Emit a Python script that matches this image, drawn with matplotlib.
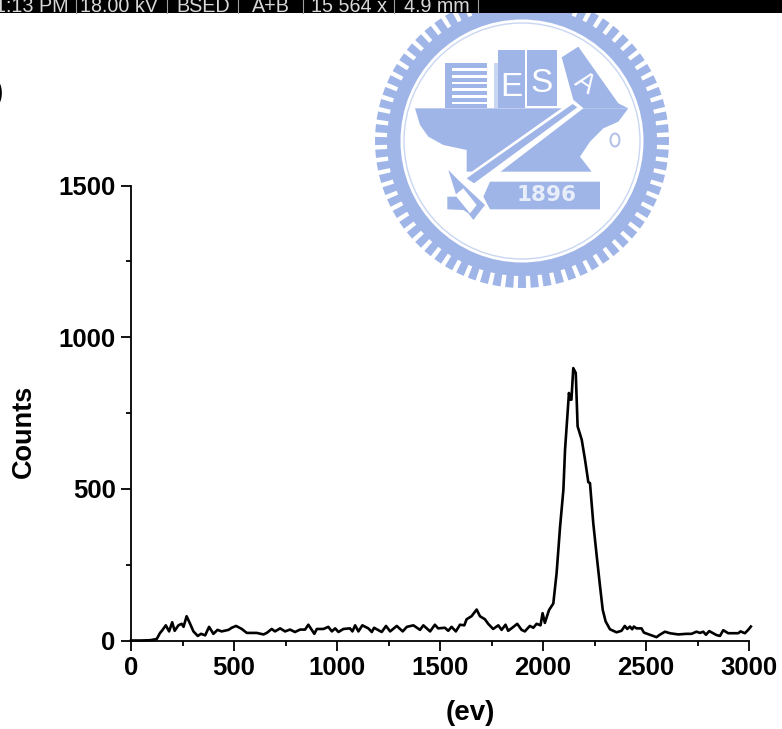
import numpy as np
import matplotlib
matplotlib.use('Agg')
import matplotlib.pyplot as plt
from matplotlib.patches import Polygon, Rectangle, Ellipse

plt.rcParams['font.family'] = ['Liberation Sans', 'DejaVu Sans']

# spettro letto a mano dal riferimento
energy = [0, 50, 93, 125, 141, 150, 169, 185, 200, 212, 230, 246, 255, 270, 287, 303, 324, 340, 360, 379,
          400, 420, 440, 473, 489, 510, 538, 562, 586, 610, 643, 659, 683, 699, 724, 748, 772, 796, 821, 845,
          861, 890, 902, 934, 958, 975, 991, 1007, 1031, 1063, 1075, 1088, 1104, 1123, 1152, 1169, 1180, 1198, 1217, 1238,
          1258, 1290, 1319, 1339, 1371, 1403, 1419, 1452, 1475, 1491, 1524, 1540, 1556, 1577, 1597, 1618, 1629, 1653, 1678, 1694,
          1718, 1734, 1758, 1783, 1799, 1818, 1831, 1847, 1875, 1896, 1912, 1936, 1953, 1969, 1988, 1998, 2009, 2029, 2050, 2066,
          2083, 2099, 2107, 2126, 2131, 2138, 2147, 2159, 2168, 2188, 2204, 2220, 2228, 2244, 2261, 2277, 2290, 2304, 2325, 2357,
          2381, 2397, 2409, 2422, 2433, 2441, 2454, 2478, 2490, 2519, 2551, 2567, 2592, 2616, 2656, 2697, 2721, 2745, 2762, 2778,
          2791, 2807, 2842, 2859, 2875, 2899, 2948, 2959, 2980, 2996, 3009]
counts = [0, 0, 1, 5, 25, 32, 50, 30, 60, 32, 50, 55, 45, 80, 55, 30, 15, 22, 17, 45,
          22, 35, 30, 35, 42, 48, 38, 25, 25, 25, 20, 25, 38, 30, 40, 30, 36, 28, 36, 36,
          52, 22, 38, 38, 45, 30, 40, 28, 38, 40, 30, 50, 30, 50, 40, 28, 42, 35, 28, 48,
          30, 48, 30, 45, 50, 35, 50, 30, 52, 40, 42, 32, 45, 30, 52, 50, 70, 80, 102, 80,
          70, 55, 38, 50, 35, 52, 32, 40, 55, 35, 30, 48, 42, 55, 50, 90, 58, 100, 122, 222,
          376, 497, 629, 816, 794, 794, 898, 882, 706, 662, 596, 522, 519, 387, 277, 178, 101, 63, 37, 27,
          32, 48, 38, 46, 37, 46, 40, 40, 26, 19, 11, 19, 29, 24, 20, 22, 22, 29, 25, 29,
          19, 31, 18, 15, 34, 24, 24, 30, 24, 35, 46]

x_ticks = [0, 500, 1000, 1500, 2000, 2500, 3000]
y_ticks = [0, 500, 1000, 1500]
bar_labels = ['1:13 PM', '18.00 kV', 'BSED', 'A+B', '15 564 x', '4.9 mm']
bar_label_right = [69, 158, 230, 290, 387, 470]
bar_seps = [76, 167, 238, 303, 394, 478]

W, H = 782, 729
LOGO = '#9FB5E8'

fig = plt.figure(figsize=(W / 100, H / 100), dpi=100, facecolor='white')

# sfondo in coordinate pixel: barra SEM e logo
bg = fig.add_axes([0, 0, 1, 1], zorder=0)
bg.set_xlim(0, W)
bg.set_ylim(H, 0)
bg.axis('off')


def zp(pts):
    return [(370 + a / 3, b / 3) for a, b in pts]


def shape(pts, color=LOGO, z=2):
    bg.add_patch(Polygon(zp(pts), closed=True, facecolor=color, edgecolor='none', zorder=z))


cx, cy = 522, 141
# denti del sigillo
for a in np.arange(0, 360, 5.0):
    t0, t1 = np.radians(a - 1.6), np.radians(a + 1.6)
    bg.add_patch(Polygon([(cx + 130 * np.cos(t0), cy + 130 * np.sin(t0)),
                          (cx + 147 * np.cos(t0), cy + 147 * np.sin(t0)),
                          (cx + 147 * np.cos(t1), cy + 147 * np.sin(t1)),
                          (cx + 130 * np.cos(t1), cy + 130 * np.sin(t1))],
                         facecolor=LOGO, edgecolor='none', zorder=1))
bg.add_patch(Ellipse((cx, cy), 270, 270, facecolor=LOGO, edgecolor='none', zorder=1))
bg.add_patch(Ellipse((cx, cy), 243, 243, facecolor='white', edgecolor='none', zorder=1))
bg.add_patch(Ellipse((cx, cy), 236, 236, facecolor='none', edgecolor='#C9D6F2', lw=1, zorder=1))

# incudine
shape([(135, 325), (775, 325), (745, 365), (700, 385), (660, 425), (630, 470), (665, 515), (390, 515),
       (290, 515), (290, 450), (220, 435), (175, 410), (150, 375)])
# libri
shape([(225, 190), (352, 190), (352, 325), (225, 325)])
for yy in [205, 225, 245, 265, 285, 305]:
    shape([(245, yy), (350, yy), (350, yy + 8), (245, yy + 8)], 'white', 3)
shape([(385, 150), (465, 150), (465, 325), (385, 325)])
shape([(472, 150), (560, 150), (560, 318), (472, 318)])
shape([(575, 172), (625, 140), (745, 310), (775, 325), (640, 325), (610, 300)])
shape([(372, 190), (385, 190), (385, 325), (372, 325)], '#C9D6F2', 2)
# manico del martello
shape([(610, 300), (640, 325), (320, 570), (270, 540)], 'white', 3)
shape([(608, 312), (622, 322), (312, 550), (290, 535)], LOGO, 4)
# targa 1896 e testa del martello
shape([(360, 545), (690, 545), (690, 628), (360, 628), (340, 590)])
shape([(235, 510), (270, 545), (345, 615), (310, 660), (295, 640), (280, 630), (232, 628), (232, 590), (260, 590)])
shape([(255, 585), (300, 640), (320, 615), (280, 565)], 'white', 3)

for s, a, b, fs in [('E', 425, 262, 24), ('S', 515, 250, 24)]:
    bg.text(370 + a / 3, b / 3, s, color='white', fontsize=fs, ha='center', va='center', zorder=5)
bg.text(370 + 645 / 3, 250 / 3, 'A', color='white', fontsize=20, ha='center', va='center', rotation=-35, zorder=5)
bg.text(370 + 530 / 3, 585 / 3, '1896', color='#E8EDFA', fontsize=15.5, fontweight='bold',
        family='DejaVu Sans', ha='center', va='center', zorder=5)
bg.add_patch(Ellipse((370 + 735 / 3, 420 / 3), 9, 13, facecolor='none', edgecolor='#B5C4E6', lw=1.5, zorder=2))

# barra nera in alto, testo tagliato dal bordo
bg.add_patch(Rectangle((0, 0), W, 13, facecolor='black', edgecolor='none', zorder=6))
for label, xr in zip(bar_labels, bar_label_right):
    bg.text(xr, 11.5, label, color='#D8D8D8', fontsize=14.2, ha='right', va='baseline', zorder=7, clip_on=True)
for xs in bar_seps:
    bg.plot([xs, xs], [0, 13], color='#A0A0A0', lw=0.8, zorder=7)

# parentesi tagliata dal bordo sinistro
bg.text(-6, 93, ')', color='black', fontsize=20, fontweight='bold', ha='left', va='center', zorder=7)

# etichette degli assi messe a mano come nel riferimento
bg.text(470, 720, '(ev)', fontsize=20, fontweight='bold', ha='center', va='baseline', zorder=7)
bg.text(24, 431.5, 'Counts', fontsize=19.5, fontweight='bold', rotation=90, ha='center', va='center', zorder=7)

# grafico
ax = fig.add_axes([131 / W, 1 - 640.5 / H, 618 / W, 455 / H], zorder=2)
ax.patch.set_alpha(0)
ax.plot(energy, counts, color='black', lw=1.9, clip_on=False)
ax.set_xlim(0, 3000)
ax.set_ylim(0, 1500)
ax.set_xticks(x_ticks)
ax.set_yticks(y_ticks)
ax.set_xticks([250, 750, 1250, 1750, 2250, 2750], minor=True)
ax.set_yticks([250, 750, 1250], minor=True)
ax.spines['top'].set_visible(False)
ax.spines['right'].set_visible(False)
ax.spines['left'].set_linewidth(1.3)
ax.spines['bottom'].set_linewidth(1.3)
ax.tick_params(which='major', length=7.5, width=1.3, direction='out', labelsize=18.5)
ax.tick_params(which='minor', length=3.5, width=1.3, direction='out')
ax.tick_params(axis='x', which='major', pad=4)
ax.tick_params(axis='y', which='major', pad=3.5)
for t in ax.get_xticklabels() + ax.get_yticklabels():
    t.set_fontweight('bold')

fig.savefig('out.png', dpi=100)
